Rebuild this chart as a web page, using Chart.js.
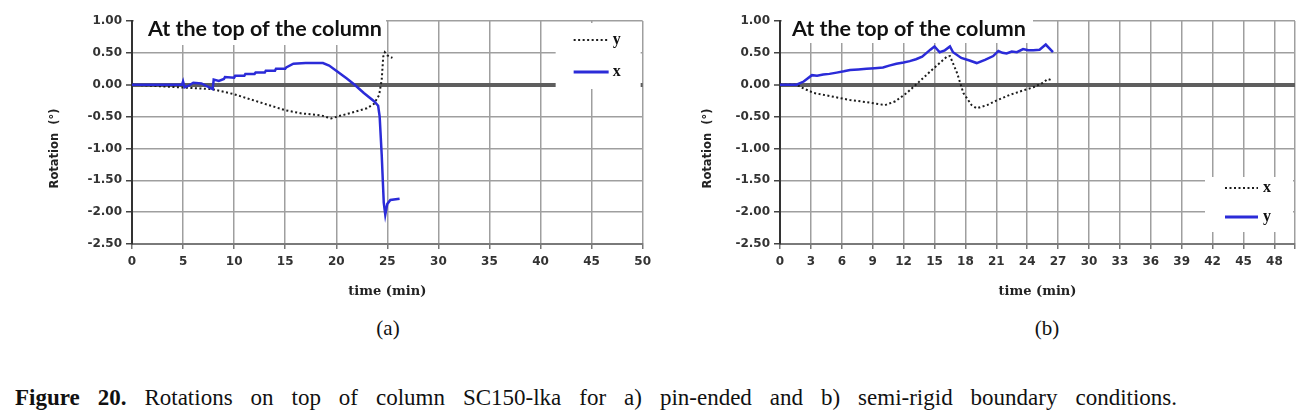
<!DOCTYPE html>
<html>
<head>
<meta charset="utf-8">
<script src="https://cdn.jsdelivr.net/npm/chart.js@4.4.1/dist/chart.umd.min.js"></script>
<style>
  html, body { margin: 0; padding: 0; background: #fff; }
  #page { position: relative; width: 1314px; height: 417px; overflow: hidden; }
  canvas { position: absolute; top: 0; }
  #chartA { left: 0; }
  #chartB { left: 657px; }
  .sub { position: absolute; top: 318px; font: 21px/21px "Liberation Serif", "Times New Roman", serif; color: #111; transform: translateX(-50%); }
  #fig { position: absolute; left: 15px; top: 386px; white-space: nowrap; font: 23px/23px "Liberation Serif", "Times New Roman", serif; color: #111; }
</style>
</head>
<body>
<div id="page">
  <canvas id="chartA" width="657" height="310"></canvas>
  <canvas id="chartB" width="657" height="310"></canvas>
  <div class="sub" style="left:388px">(a)</div>
  <div class="sub" style="left:1047px">(b)</div>
  <div id="fig"><b>Figure 20.</b> Rotations on top of column SC150-lka for a) pin-ended and b) semi-rigid boundary conditions.</div>
</div>
<script>
// y axis (shared)
const rotTicks = [1, 0.5, 0, -0.5, -1, -1.5, -2, -2.5];

// (a) pin-ended
const aTimeTicks = [0, 5, 10, 15, 20, 25, 30, 35, 40, 45, 50];
const aYTime = [0, 7.9, 10.0, 11.8, 13.4, 15.0, 16.6, 18.5, 19.5, 20.1, 21.5, 23.0, 23.7, 24.2, 24.45, 24.6, 24.75, 25.0, 25.5];
const aYRot = [0, -0.07, -0.15, -0.24, -0.32, -0.40, -0.45, -0.48, -0.53, -0.50, -0.44, -0.37, -0.30, -0.16, 0.08, 0.44, 0.51, 0.46, 0.42];
const aXTime = [0, 4.9, 5.0, 5.15, 5.5, 6.0, 6.8, 7.9, 8.0, 8.5, 9.0, 9.1, 10.0, 10.1, 11.0, 11.1, 12.0, 12.1, 13.0, 13.1, 14.0, 14.1, 15.0, 15.1, 15.8, 17.0, 18.7, 19.3, 20.0, 21.0, 21.8, 22.7, 23.7, 24.1, 24.25, 24.45, 24.65, 24.8, 24.9, 25.0, 25.3, 26.2];
const aXRot = [0, 0, 0.05, -0.04, -0.02, 0.03, 0.02, -0.07, 0.08, 0.06, 0.09, 0.12, 0.11, 0.14, 0.14, 0.17, 0.17, 0.19, 0.19, 0.22, 0.22, 0.25, 0.25, 0.27, 0.33, 0.34, 0.34, 0.30, 0.22, 0.10, 0.00, -0.13, -0.26, -0.33, -0.50, -1.10, -1.85, -2.04, -1.95, -1.87, -1.81, -1.79];

// (b) semi-rigid
const bTimeTicks = [0, 3, 6, 9, 12, 15, 18, 21, 24, 27, 30, 33, 36, 39, 42, 45, 48];
const bXTime = [0, 1.6, 2.3, 3.3, 4.9, 6.8, 8.7, 10.2, 11.2, 12.3, 13.4, 14.6, 15.5, 16.2, 16.5, 17.2, 17.8, 18.6, 19.1, 20.1, 21.0, 22.3, 23.6, 24.6, 25.5, 26.0, 26.4];
const bXRot = [0, 0, -0.06, -0.13, -0.18, -0.24, -0.28, -0.32, -0.26, -0.13, 0.03, 0.21, 0.34, 0.44, 0.45, 0.18, -0.13, -0.32, -0.37, -0.32, -0.25, -0.16, -0.09, -0.04, 0.03, 0.09, 0.07];
const bYTime = [0, 1.6, 2.3, 3.1, 3.6, 4.2, 4.8, 5.5, 6.2, 6.8, 7.6, 8.4, 9.2, 10.0, 10.6, 11.3, 12.0, 12.6, 13.2, 13.8, 14.6, 15.0, 15.5, 16.0, 16.5, 16.8, 17.6, 18.4, 19.1, 19.9, 20.7, 21.2, 21.6, 22.0, 22.5, 23.0, 23.6, 24.1, 24.6, 25.2, 25.8, 26.5];
const bYRot = [0, 0, 0.05, 0.15, 0.14, 0.16, 0.17, 0.19, 0.21, 0.23, 0.24, 0.25, 0.26, 0.27, 0.30, 0.33, 0.35, 0.37, 0.40, 0.44, 0.55, 0.60, 0.51, 0.54, 0.60, 0.51, 0.42, 0.38, 0.34, 0.39, 0.45, 0.53, 0.50, 0.49, 0.52, 0.51, 0.56, 0.54, 0.54, 0.55, 0.63, 0.51];

const BLUE = '#2b2bd8';
const DOT = '#1c1c1c';

function pts(ts, vs) {
  return ts.map((t, i) => ({ x: t, y: vs[i] }));
}

// white boxes, inner title and the legend drawn on top of the grid
const overlay = {
  id: 'overlay',
  beforeDatasetsDraw(chart, args, o) {
    const { ctx, chartArea: a } = chart;
    ctx.save();
    ctx.fillStyle = '#fff';
    ctx.fillRect(a.left + 2, 0, o.titleBoxW, o.titleBoxB);
    ctx.fillRect(a.right - o.legBoxW, o.legBoxT, o.legBoxW - 2, o.legBoxB - o.legBoxT);

    ctx.fillStyle = '#111';
    ctx.font = 'bold 21.5px Lato, "Open Sans", sans-serif';
    ctx.textBaseline = 'alphabetic';
    ctx.fillText('At the top of the column', a.left + o.titleDx, 36);

    o.items.forEach(it => {
      ctx.beginPath();
      ctx.strokeStyle = it.color;
      ctx.lineWidth = it.dash ? 2 : 3;
      ctx.setLineDash(it.dash ? [2, 2.5] : []);
      ctx.moveTo(a.right - o.lineX1, it.y);
      ctx.lineTo(a.right - o.lineX2, it.y);
      ctx.stroke();
      ctx.setLineDash([]);
      ctx.fillStyle = '#111';
      ctx.font = 'bold 16px "Liberation Serif", "Times New Roman", serif';
      ctx.textBaseline = 'middle';
      ctx.fillText(it.label, a.right - o.textX, it.y);
    });
    ctx.restore();
  }
};

function makeChart(id, o) {
  return new Chart(document.getElementById(id), {
    type: 'line',
    data: {
      datasets: [
        { label: o.dotLabel, data: pts(o.dotT, o.dotV), borderColor: DOT, borderWidth: 2, borderDash: [2, 2.5], pointRadius: 0, tension: 0, order: 1 },
        { label: o.solidLabel, data: pts(o.solidT, o.solidV), borderColor: BLUE, borderWidth: 2.5, pointRadius: 0, tension: 0, order: 0 }
      ]
    },
    options: {
      responsive: false,
      animation: false,
      events: [],
      layout: { padding: { top: 21, right: o.padRight, bottom: 0, left: 0 } },
      plugins: {
        legend: { display: false },
        tooltip: { enabled: false },
        overlay: o.overlay
      },
      scales: {
        x: {
          type: 'linear',
          min: 0,
          max: 50,
          afterBuildTicks: ax => {
            const vals = o.xTicks.slice();
            if (vals[vals.length - 1] !== 50) vals.push(50);
            ax.ticks = vals.map(v => ({ value: v }));
          },
          afterFit: s => { s.height = 66; },
          ticks: {
            autoSkip: false, maxRotation: 0, padding: 6, color: '#333',
            font: { family: '"DejaVu Sans"', weight: 'bold', size: 12 },
            callback: v => o.xTicks.includes(v) ? String(v) : ''
          },
          grid: { color: '#9f9f9f', lineWidth: 1.5, tickLength: 5, tickColor: '#777' },
          border: { color: '#7a7a7a', width: 2 },
          title: {
            display: true, text: 'time (min)', color: '#222',
            font: { family: '"DejaVu Serif"', weight: 'bold', size: 13 },
            padding: { top: 0, bottom: 11 }
          }
        },
        y: {
          min: -2.5,
          max: 1,
          afterBuildTicks: ax => { ax.ticks = rotTicks.map(v => ({ value: v })); },
          afterFit: s => { s.width = o.yWidth; },
          ticks: {
            padding: 4, color: '#333',
            font: { family: '"DejaVu Sans"', weight: 'bold', size: 12 },
            callback: v => v.toFixed(2)
          },
          grid: {
            color: c => c.tick && c.tick.value === 0 ? '#5e5e5e' : '#9f9f9f',
            lineWidth: c => c.tick && c.tick.value === 0 ? 4 : 1.5,
            tickLength: 6, tickColor: '#444', tickWidth: 1.5
          },
          border: { color: '#333', width: 2 },
          title: {
            display: true, text: 'Rotation  (°)        ', color: '#222',
            font: { family: '"DejaVu Sans"', weight: 'bold', size: 11.5 },
            padding: { top: o.yTitlePad, bottom: 0 }
          }
        }
      }
    },
    plugins: [overlay]
  });
}

makeChart('chartA', {
  dotLabel: 'y', dotT: aYTime, dotV: aYRot,
  solidLabel: 'x', solidT: aXTime, solidV: aXRot,
  xTicks: aTimeTicks, padRight: 10, yWidth: 132, yTitlePad: 48,
  overlay: {
    titleBoxW: 252, titleBoxB: 45, titleDx: 16,
    legBoxW: 87, legBoxT: 23, legBoxB: 89,
    lineX1: 69, lineX2: 34, textX: 30,
    items: [
      { label: 'y', color: DOT, dash: true, y: 40 },
      { label: 'x', color: BLUE, dash: false, y: 72 }
    ]
  }
});

makeChart('chartB', {
  dotLabel: 'x', dotT: bXTime, dotV: bXRot,
  solidLabel: 'y', solidT: bYTime, solidV: bYRot,
  xTicks: bTimeTicks, padRight: 19, yWidth: 123, yTitlePad: 44,
  overlay: {
    titleBoxW: 251, titleBoxB: 43, titleDx: 12,
    legBoxW: 90, legBoxT: 177, legBoxB: 232,
    lineX1: 70, lineX2: 37, textX: 32,
    items: [
      { label: 'x', color: DOT, dash: true, y: 188 },
      { label: 'y', color: BLUE, dash: false, y: 217 }
    ]
  }
});

// spread the caption words over the same width as in the figure
const fig = document.getElementById('fig');
const gaps = fig.textContent.split(' ').length - 1;
const w = fig.getBoundingClientRect().width;
fig.style.wordSpacing = Math.max(0, (1177 - 15 - w) / gaps).toFixed(2) + 'px';
</script>
</body>
</html>
